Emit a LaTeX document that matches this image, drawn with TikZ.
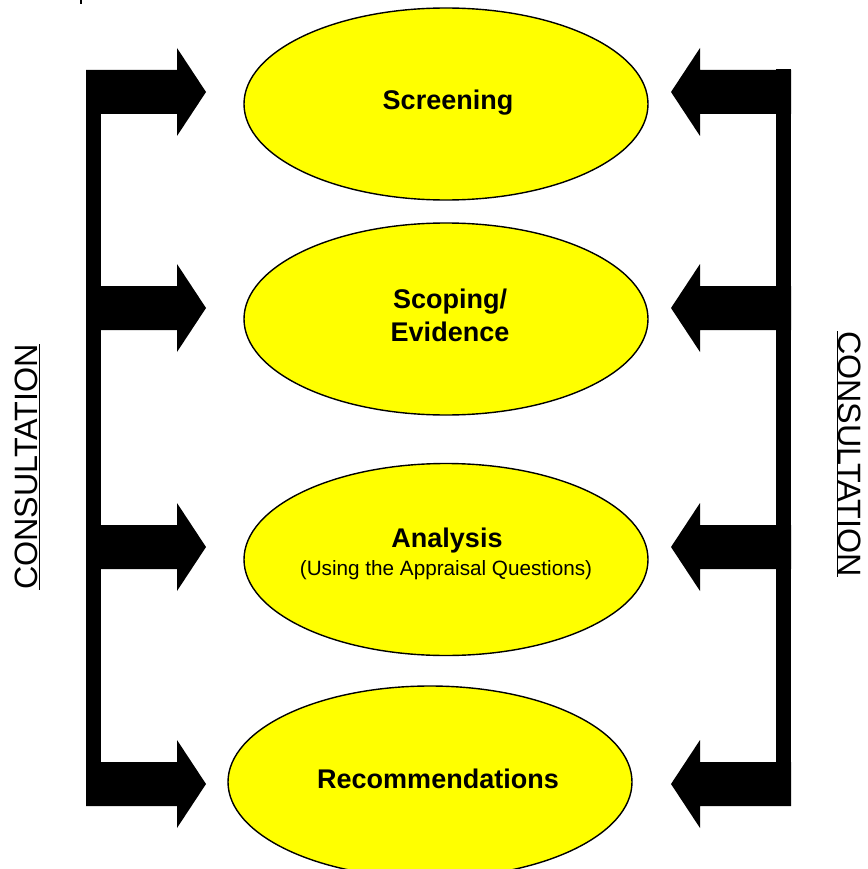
\documentclass[tikz,border=0pt]{standalone}
\usepackage{fontspec}
\setmainfont{Liberation Sans}
\usetikzlibrary{shapes.geometric}
\definecolor{stageyellow}{RGB}{255,255,0}
\tikzset{
  stage/.style={ellipse, draw=black, line width=1.4pt, fill=stageyellow,
    minimum width=404pt, minimum height=192pt, inner sep=0pt},
  ttl/.style={anchor=base, inner sep=0pt, font=\fontsize{27}{33}\selectfont\bfseries},
  sub/.style={anchor=base, inner sep=0pt, font=\fontsize{20.7}{25}\selectfont},
  cons/.style={inner sep=0pt, font=\fontsize{32.3}{36}\selectfont},
  blk/.style={fill=black, draw=none},
}
\begin{document}
\begin{tikzpicture}[x=1pt,y=-1pt]
\useasboundingbox (0,0) rectangle (867,869);
\clip (0,0) rectangle (867,869);
\fill[white] (0,0) rectangle (867,869);
% tiny cut-off mark at top
\draw[line width=1.6pt] (81,0) -- (81,4);
% stages
\node[stage] (scr) at (446,104) {};
\node[stage] (sco) at (446,319) {};
\node[stage] (ana) at (446,559.5) {};
\node[stage] (rec) at (430,782) {};
\node[ttl] (scrt) at (448,110) {Screening};
\node[ttl] (scot1) at (450,308) {Scoping/};
\node[ttl] (scot2) at (450,341) {Evidence};
\node[ttl] (anat) at (447,547) {Analysis};
\node[sub] (anas) at (446,575) {(Using the Appraisal Questions)};
\node[ttl] (rect) at (438,788) {Recommendations};
% left bracket
\fill[blk] (86,70) rectangle (101,806);
\foreach \c in {92,308,547,784}{
  \fill[blk] (86,\c-22) -- (177,\c-22) -- (177,\c-44) -- (206,\c)
     -- (177,\c+44) -- (177,\c+22) -- (86,\c+22) -- cycle;
}
% right bracket
\fill[blk] (776,69) rectangle (791,806);
\foreach \c in {92,308,547,784}{
  \fill[blk] (791,\c-22) -- (700,\c-22) -- (700,\c-44) -- (671,\c)
     -- (700,\c+44) -- (700,\c+22) -- (791,\c+22) -- cycle;
}
% consultation labels
\node[cons, rotate=90] (cl) at (27,467) {\underline{CONSULTATION}};
\node[cons, rotate=-90] (cr) at (849,454) {\underline{CONSULTATION}};
\end{tikzpicture}
\end{document}
